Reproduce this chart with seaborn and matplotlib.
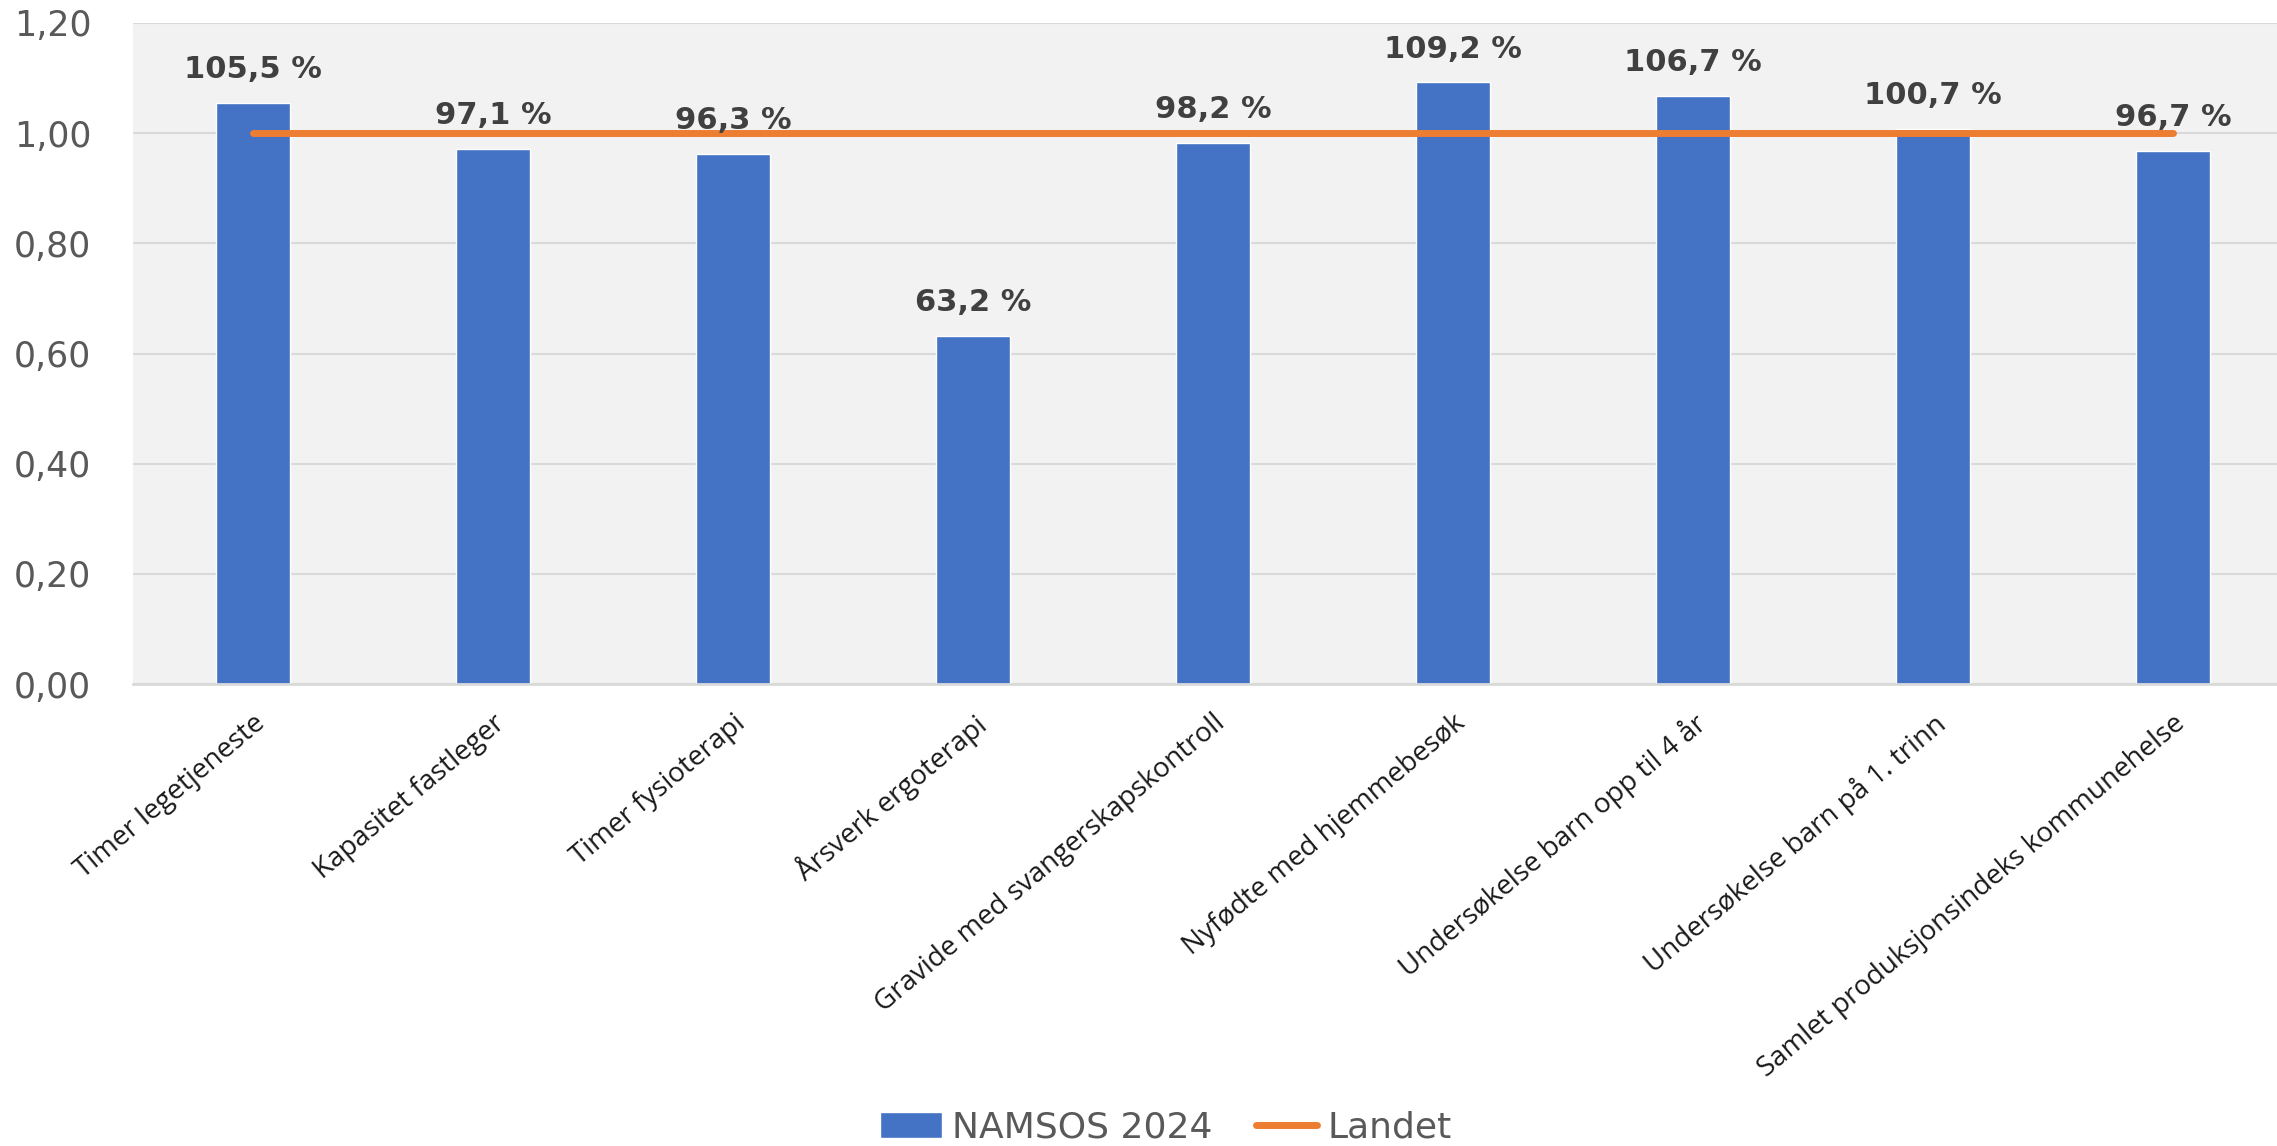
import numpy as np
import pandas as pd
import matplotlib.pyplot as plt
import seaborn as sns
from matplotlib.ticker import FuncFormatter

# Data
categories = [
    "Timer legetjeneste",
    "Kapasitet fastleger",
    "Timer fysioterapi",
    "Årsverk ergoterapi",
    "Gravide med svangerskapskontroll",
    "Nyfødte med hjemmebesøk",
    "Undersøkelse barn opp til 4 år",
    "Undersøkelse barn på 1. trinn",
    "Samlet produksjonsindeks kommunehelse",
]
namsos = [1.055, 0.971, 0.963, 0.632, 0.982, 1.092, 1.067, 1.007, 0.967]
landet = [1.0, 1.0, 1.0, 1.0, 1.0, 1.0, 1.0, 1.0, 1.0]

df = pd.DataFrame({"kategori": categories, "NAMSOS 2024": namsos, "Landet": landet})

sns.set_style("white")
plt.rcParams["font.family"] = ["DejaVu Sans"]

fig = plt.figure(figsize=(22.77, 11.46), dpi=100)
ax = fig.add_axes([0.0584, 0.403, 0.9486, 0.577])
ax.set_facecolor("#F2F2F2")

sns.barplot(data=df, x="kategori", y="NAMSOS 2024", color="#4472C4", width=0.31,
            saturation=1, ax=ax, label="NAMSOS 2024", zorder=2)
sns.lineplot(data=df, x="kategori", y="Landet", color="#ED7D31", linewidth=5,
             ax=ax, label="Landet", zorder=3, solid_capstyle="round")

# Data labels above bars
for i, v in enumerate(namsos):
    label = f"{v * 100:.1f} %".replace(".", ",")
    ax.annotate(label, (i, v), xytext=(0, 24), textcoords="offset points",
                ha="center", va="center", fontsize=22, fontweight="bold",
                color="#404040", zorder=4)

ax.set_ylim(0, 1.2)
ax.set_xlim(-0.5, len(categories) - 0.5)
ax.set_yticks(np.arange(0, 1.21, 0.2))
ax.yaxis.set_major_formatter(FuncFormatter(lambda y, _: f"{y:.2f}".replace(".", ",")))
ax.grid(axis="y", color="#D9D9D9", linewidth=1.5, zorder=0)
ax.set_axisbelow(True)
for s in ["left", "right", "top"]:
    ax.spines[s].set_visible(False)
ax.spines["bottom"].set_color("#D9D9D9")
ax.spines["bottom"].set_linewidth(2)
ax.tick_params(axis="both", length=0)
ax.tick_params(axis="y", labelsize=25, labelcolor="#595959", pad=30)
ax.set_xlabel("")
ax.set_ylabel("")

ax.set_xticks(range(len(categories)))
ax.set_xticklabels(categories, rotation=40, ha="right", rotation_mode="anchor",
                   fontsize=20, color="#1a1a1a", family=["Open Sans", "DejaVu Sans"])
ax.tick_params(axis="x", pad=18)

# Legend at the bottom
handles, labels = ax.get_legend_handles_labels()
order = [labels.index("NAMSOS 2024"), labels.index("Landet")]
ax.get_legend().remove()
fig.legend([handles[k] for k in order], [labels[k] for k in order],
           loc="center", bbox_to_anchor=(0.512, 0.016), ncol=2,
           frameon=False, fontsize=26, labelcolor="#595959", handlelength=1.7,
           handletextpad=0.28, columnspacing=1.2)

fig.savefig("out.png", dpi=100)
